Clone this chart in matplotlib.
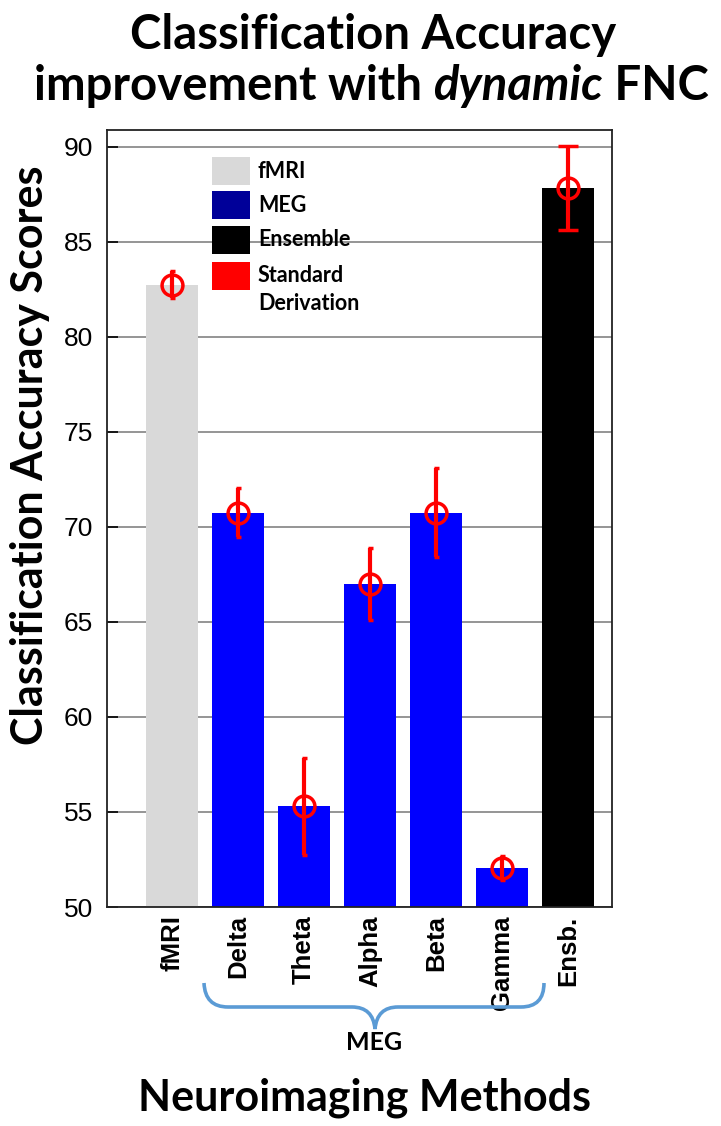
import matplotlib
matplotlib.use("Agg")
import matplotlib.pyplot as plt
from matplotlib.path import Path
from matplotlib.patches import PathPatch, Rectangle

# ---- data ----
methods = ["fMRI", "Delta", "Theta", "Alpha", "Beta", "Gamma", "Ensb."]
accuracy = [82.75, 70.75, 55.3, 67.0, 70.75, 52.05, 87.85]
std_dev = [0.7, 1.3, 2.55, 1.9, 2.35, 0.65, 2.2]
bar_colors = ["#d9d9d9", "#0000ff", "#0000ff", "#0000ff", "#0000ff", "#0000ff", "#000000"]
cap_sizes = [1.8, 1.8, 1.8, 1.8, 1.8, 1.8, 7.2]
legend_labels = ["fMRI", "MEG", "Ensemble", "Standard\nDerivation"]
legend_colors = ["#d9d9d9", "#000099", "#000000", "#ff0000"]
yticks = [50, 55, 60, 65, 70, 75, 80, 85, 90]

W, H = 721, 1126
fig = plt.figure(figsize=(W / 100, H / 100), dpi=100)
ax = fig.add_axes([107 / W, 1 - 907 / H, 505 / W, 777 / H])

x = list(range(1, len(methods) + 1))
ax.bar(x, accuracy, width=0.79, color=bar_colors, zorder=2)
for xi, yi, si, cs in zip(x, accuracy, std_dev, cap_sizes):
    ax.errorbar(xi, yi, yerr=si, fmt="o", mfc="none", mec="#ff0000", ms=15, mew=2.5,
                ecolor="#ff0000", elinewidth=3, capsize=cs, capthick=3, zorder=3)

ax.set_xlim(0.015, 7.667)
ax.set_ylim(50, 90.89)
ax.set_yticks(yticks)
ax.set_yticklabels([str(t) for t in yticks], family="Liberation Sans", fontsize=19)
ax.set_xticks(x)
ax.set_xticklabels(methods, rotation=90, family="Liberation Sans", fontsize=18.5,
                   fontweight="bold", va="top", ha="center")
ax.tick_params(axis="x", length=0, pad=6)
ax.tick_params(axis="y", direction="in", length=8, width=1.2, pad=10, right=False)
ax.yaxis.grid(True, color="#8c8c8c", linewidth=1.3, zorder=0)
ax.set_axisbelow(True)
for s in ax.spines.values():
    s.set_linewidth(1.3)
    s.set_color("#222222")

# ---- overlay for decorations (pixel coordinates) ----
ov = fig.add_axes([0, 0, 1, 1], zorder=5)
ov.set_xlim(0, W)
ov.set_ylim(H, 0)
ov.axis("off")
ov.patch.set_alpha(0)

ov.text(30, 455, "Classification Accuracy Scores", family="Lato", fontweight="bold",
        fontsize=31, rotation=90, ha="center", va="center")

# legend
tops = [157, 191, 226, 262]
for lab, col, t in zip(legend_labels, legend_colors, tops):
    ov.add_patch(Rectangle((212, t), 38, 28, facecolor=col, edgecolor="none"))
    for k, line in enumerate(lab.split("\n")):
        ov.text(258, t + 14 + 28 * k, line, family="Lato", fontweight="bold",
                fontsize=15.5, va="center", ha="left")

# brace
verts = [(204, 983), (205, 1007), (228, 1007), (352, 1007), (373, 1007), (375, 1029),
         (377, 1007), (398, 1007), (521, 1007), (544, 1007), (544, 983)]
codes = [Path.MOVETO, Path.CURVE3, Path.CURVE3, Path.LINETO, Path.CURVE3, Path.CURVE3,
         Path.CURVE3, Path.CURVE3, Path.LINETO, Path.CURVE3, Path.CURVE3]
ov.add_patch(PathPatch(Path(verts, codes), facecolor="none", edgecolor="#5b9bd5", lw=2.6))
ov.text(374, 1042, "MEG", family="Lato", fontweight="bold", fontsize=18,
        ha="center", va="center")

ov.text(365, 1098, "Neuroimaging Methods", family="Lato", fontweight="bold", fontsize=31,
        ha="center", va="center")

# title
ov.text(373, 35, "Classification Accuracy", family="Lato", fontweight="bold", fontsize=34,
        ha="center", va="center")
fig.canvas.draw()
r = fig.canvas.get_renderer()
parts = [("improvement with ", "normal"), ("dynamic", "italic"), (" FNC", "normal")]
txts = []
for s, st in parts:
    t = ov.text(0, 86, s, family="Lato", fontweight="bold", style=st, fontsize=34,
                ha="left", va="center")
    txts.append(t)
widths = [t.get_window_extent(r).width for t in txts]
total = sum(widths)
xs = 371 - total / 2
for t, w in zip(txts, widths):
    t.set_x(xs)
    xs += w

fig.savefig("out.png", dpi=100)
